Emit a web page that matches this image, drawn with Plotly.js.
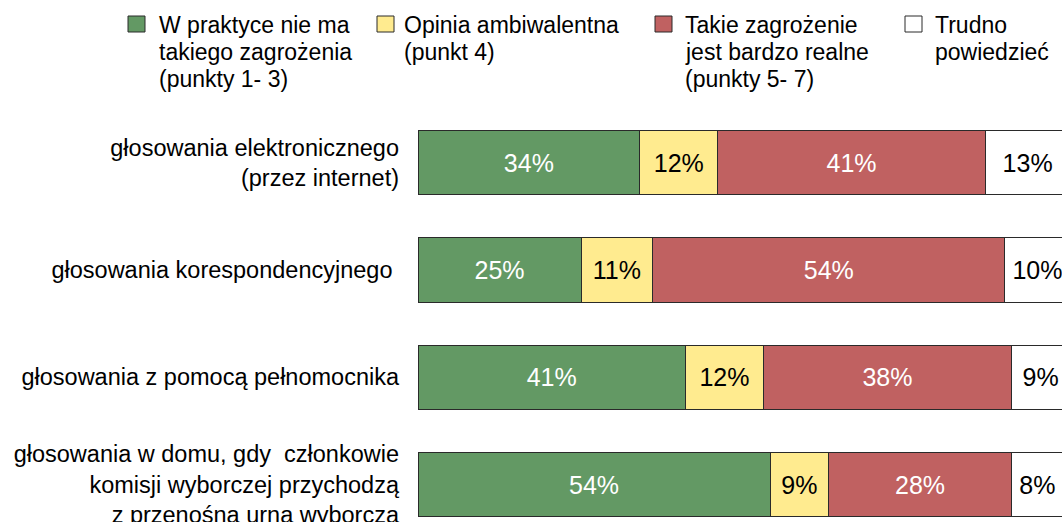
<!DOCTYPE html>
<html>
<head>
<meta charset="utf-8">
<script src="https://cdn.plot.ly/plotly-3.0.1.min.js"></script>
<style>html,body{margin:0;padding:0;background:#fff;}#chart{width:1062px;height:522px;}</style>
</head>
<body>
<div id="chart"></div>
<script>
// Data
const categories = [
  "głosowania elektronicznego<br>(przez internet)",
  "głosowania korespondencyjnego\u00a0",
  "głosowania z pomocą pełnomocnika",
  "głosowania w domu, gdy\u00a0 członkowie<br>komisji wyborczej przychodzą<br>z przenośną urną wyborczą"
];
const seriesNames = [
  "W praktyce nie ma<br>takiego zagrożenia<br>(punkty 1- 3)",
  "Opinia ambiwalentna<br>(punkt 4)",
  "Takie zagrożenie<br>jest bardzo realne<br>(punkty 5- 7)",
  "Trudno<br>powiedzieć"
];
const noThreat   = [34, 25, 41, 54];
const ambivalent = [12, 11, 12, 9];
const realThreat = [41, 54, 38, 28];
const hardToSay  = [13, 10, 9, 8];

const values = [noThreat, ambivalent, realThreat, hardToSay];
const colors = ["#639964", "#FFEB8F", "#C06161", "#FFFFFF"];
const textColors = ["#FFFFFF", "#000000", "#FFFFFF", "#000000"];

const FONT = "Liberation Sans, Arial, sans-serif";
const W = 1062, H = 522, ML = 418, MT = 109;
const PW = W - ML, PH = H - MT;

const traces = values.map((v, i) => ({
  type: "bar",
  orientation: "h",
  name: seriesNames[i].replace(/<br>/g, " "),
  y: categories,
  x: v,
  marker: {color: colors[i], line: {color: "#2a2a2a", width: 1}},
  text: v.map(d => d + "%"),
  textposition: "inside",
  insidetextanchor: "middle",
  constraintext: "none",
  textfont: {family: FONT, size: 25, color: textColors[i]},
  hoverinfo: "skip",
  showlegend: false
}));

// Legend drawn as layout decorations (pixel -> paper)
const px2x = p => (p - ML) / PW;
const py2y = p => (H - p) / PH;
const legendBoxX = [128, 377, 655, 905];
const legendTextX = [157, 402, 683, 933];
const shapes = [], annotations = [];
seriesNames.forEach((n, i) => {
  shapes.push({type: "rect", xref: "paper", yref: "paper",
    x0: px2x(legendBoxX[i]), x1: px2x(legendBoxX[i] + 17),
    y0: py2y(16), y1: py2y(32),
    fillcolor: colors[i], line: {color: "#2a2a2a", width: 1}});
  n.split("<br>").forEach((line, j) => {
    annotations.push({xref: "paper", yref: "paper", x: px2x(legendTextX[i]), y: py2y(25 + 27 * j),
      xanchor: "left", yanchor: "middle", align: "left", showarrow: false,
      text: line, font: {family: FONT, size: 23, color: "#000"}});
  });
});

const layout = {
  width: W, height: H,
  margin: {l: ML, r: 0, t: MT, b: 0, pad: 0},
  paper_bgcolor: "#fff", plot_bgcolor: "#fff",
  barmode: "stack",
  bargap: 0.4,
  font: {family: FONT, size: 23, color: "#000"},
  xaxis: {range: [0, PW / 6.52], showticklabels: false, showgrid: false, zeroline: false, showline: false, fixedrange: true},
  yaxis: {type: "category", autorange: false, range: [-0.5 + PH / 107.3, -0.5],
    showgrid: false, zeroline: false, showline: false, ticks: "", ticklabelstandoff: 18,
    tickfont: {family: FONT, size: 23.5, color: "#000"}},
  shapes: shapes,
  annotations: annotations,
  showlegend: false
};

Plotly.newPlot("chart", traces, layout, {displayModeBar: false, staticPlot: true});
</script>
</body>
</html>
